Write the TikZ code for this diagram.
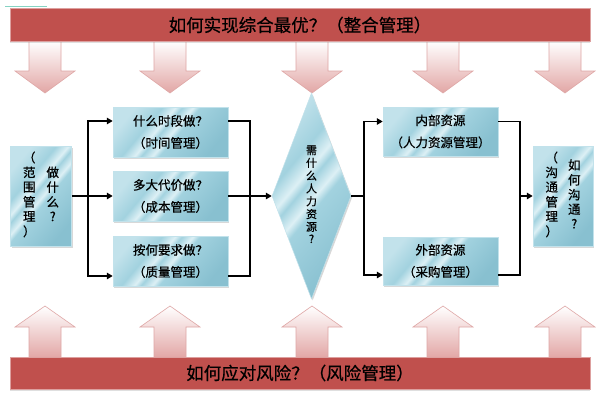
\documentclass[tikz,border=0pt]{standalone}
\usepackage{fontspec}
\setmainfont{Noto Sans CJK SC}[FakeBold=0.6]
\usetikzlibrary{shapes.geometric,arrows.meta,calc,shadows}
\definecolor{barred}{HTML}{C0504D}
\definecolor{barline}{HTML}{DDA09F}
\definecolor{arrpink}{HTML}{E2A6A5}
\definecolor{arrline}{HTML}{DFA7A6}
\definecolor{bxL}{HTML}{C2E2EB}
\definecolor{bxM}{HTML}{A2D2DF}
\definecolor{bxW}{HTML}{DDF0F5}
\definecolor{bxD}{HTML}{88C0D0}
\definecolor{tealline}{HTML}{86D3C3}
\pgfdeclarehorizontalshading{boxshade}{100bp}{color(0bp)=(bxL); color(25bp)=(bxL); color(37bp)=(bxM); color(43bp)=(bxW); color(46bp)=(bxM); color(51bp)=(bxW); color(54bp)=(bxM); color(75bp)=(bxD); color(100bp)=(bxD)}
\newcommand{\vcol}[1]{\begin{tabular}[c]{@{}c@{}}#1\end{tabular}}
\begin{document}
\begin{tikzpicture}[x=1pt,y=-1pt,
  bar/.style={rectangle, fill=barred, draw=barline, line width=0.8pt,
    minimum width=580pt, inner sep=0pt,
    font=\fontsize{17.5}{20}\selectfont,
    drop shadow={shadow xshift=0pt, shadow yshift=-1.5pt, opacity=0.25, fill=gray}},
  blockarrow/.style={top color=white, bottom color=arrpink, draw=arrline, line width=0.6pt},
  bluebox/.style={rectangle, shading=boxshade, shading angle=-40, draw=bxL, line width=0.5pt,
    inner sep=0pt, align=center,
    drop shadow={shadow xshift=1.2pt, shadow yshift=-1.5pt, opacity=0.3, fill=gray}},
  taskbox/.style={bluebox, minimum width=115pt, minimum height=50pt,
    font=\fontsize{12.5}{22}\selectfont},
  sidebox/.style={bluebox, minimum width=61pt, minimum height=100pt,
    font=\fontsize{12.5}{14.5}\selectfont},
  hrdiamond/.style={diamond, aspect=0.37, shading=boxshade, shading angle=-40, draw=bxL,
    line width=0.5pt, inner sep=0pt, minimum width=79pt, minimum height=206pt,
    font=\fontsize{11}{12}\selectfont,
    drop shadow={shadow xshift=1.2pt, shadow yshift=-1.5pt, opacity=0.3, fill=gray}},
  conn/.style={draw=black, line width=1.8pt, line join=miter},
  arr/.style={conn, -{Triangle[length=6pt,width=6.5pt]}}
]
\useasboundingbox (0,0) rectangle (600,400);
\fill[white] (0,0) rectangle (600,400);
\draw[tealline, line width=1pt] (5,6) -- (47,6);

% block arrows
\foreach \c in {45,170,312,443,565}{
  \path[blockarrow] ({\c-16},41) -- ({\c+16},41) -- ({\c+16},71) -- ({\c+30},71)
    -- (\c,93) -- ({\c-30},71) -- ({\c-16},71) -- cycle;
  \path[blockarrow] ({\c-16},358) -- ({\c+16},358) -- ({\c+16},327) -- ({\c+30},327)
    -- (\c,306) -- ({\c-30},327) -- ({\c-16},327) -- cycle;
}

% bars
\node[bar, minimum height=33pt] (topbar) at (300,25) {如何实现综合最优？（整合管理）};
\node[bar, minimum height=32pt] (botbar) at (300,373) {如何应对风险？（风险管理）};

% boxes
\node[sidebox] (scope) at (41,196) {\vcol{（\\范\\围\\管\\理\\）}\hspace{11pt}\vcol{做\\什\\么\\?}};
\node[taskbox] (t1) at (170.5,132) {什么时段做？\\（时间管理）};
\node[taskbox] (t2) at (170.5,196) {多大代价做？\\（成本管理）};
\node[taskbox] (t3) at (170.5,261) {按何要求做？\\（质量管理）};
\node[hrdiamond] (hr) at (311.5,196) {\vcol{需\\什\\么\\人\\力\\资\\源\\?}};
\node[taskbox, minimum height=49pt] (inres) at (440.5,131.5) {内部资源\\（人力资源管理）};
\node[taskbox, minimum height=48pt] (outres) at (440.5,261) {外部资源\\（采购管理）};
\node[sidebox, minimum width=60pt] (comm) at (563,196) {\vcol{（\\沟\\通\\管\\理\\）}\hspace{10pt}\vcol{如\\何\\沟\\通\\?}};

% connectors
\coordinate (jL) at (88,196);
\coordinate (jM) at (250,196);
\coordinate (jR) at (364,196);
\coordinate (jS) at (520,196);
\draw[conn] (scope.east) -- (jL);
\draw[arr] (jL) |- ($(t1.west)+(0,-11)$);
\draw[arr] (jL) -- (t2.west);
\draw[arr] (jL) |- ($(t3.west)+(0,15)$);
\draw[conn] ($(t1.east)+(0,-11)$) -| (jM);
\draw[conn] ($(t3.east)+(0,15)$) -| (jM);
\draw[arr] (t2.east) -- (hr.west);
\draw[conn] (hr.east) -- (jR);
\draw[arr] (jR) |- ($(inres.west)+(0,-10)$);
\draw[arr] (jR) |- ($(outres.west)+(0,14)$);
\draw[conn] ($(inres.east)+(0,-10)$) -| (jS);
\draw[conn] ($(outres.east)+(0,14)$) -| (jS);
\draw[arr] (jS) -- (comm.west);
\end{tikzpicture}
\end{document}
